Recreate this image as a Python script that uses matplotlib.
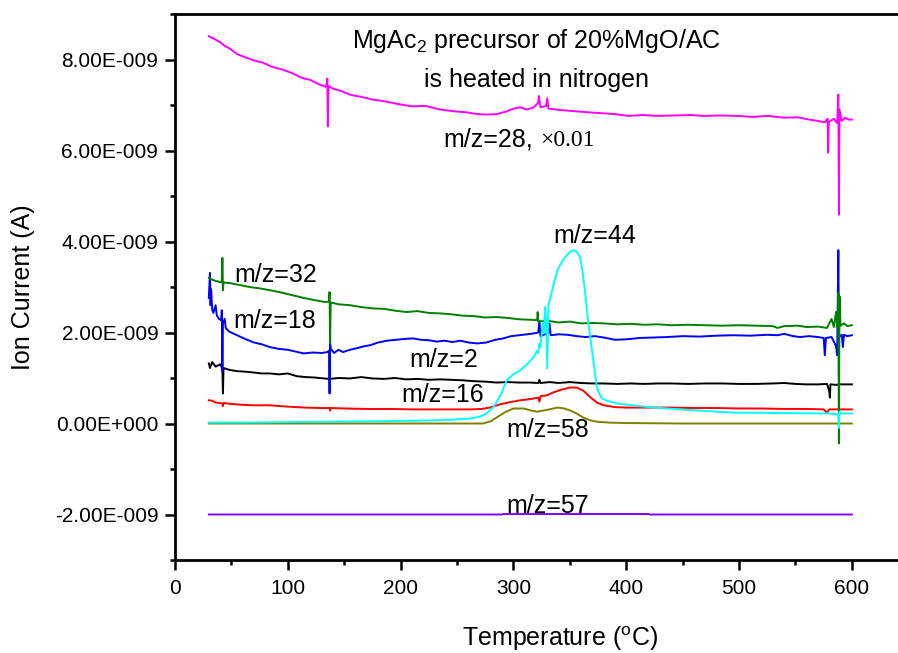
import matplotlib
matplotlib.use('Agg')
import matplotlib.pyplot as plt
import numpy as np
from matplotlib.ticker import FixedLocator, MultipleLocator, FuncFormatter

plt.rcParams['font.family'] = ['Liberation Sans', 'DejaVu Sans']
plt.rcParams['mathtext.default'] = 'regular'

# (temperature in C, ion current in units of 1e-9 A)
mz28 = [(30, 8.51), (35, 8.45), (40, 8.38), (44, 8.30), (48, 8.25), (55, 8.12), (62, 8.05), (70, 7.98),
        (78, 7.93), (86, 7.84), (95, 7.78), (104, 7.70), (112, 7.60), (120, 7.55), (128, 7.45), (134, 7.40),
        (135, 7.58), (135.5, 6.53), (136, 7.42), (140, 7.36), (148, 7.30), (156, 7.22), (165, 7.18),
        (175, 7.12), (186, 7.08), (198, 7.02), (210, 6.97), (222, 6.98), (235, 6.90), (248, 6.86),
        (258, 6.84), (268, 6.80), (276, 6.79), (285, 6.80), (294, 6.86), (300, 6.92), (306, 6.95),
        (312, 6.90), (318, 6.95), (322, 7.05), (322.5, 7.20), (324, 6.95), (329, 6.98), (330, 7.15),
        (331, 6.92), (338, 6.90), (346, 6.88), (356, 6.86), (366, 6.84), (378, 6.82), (390, 6.80),
        (402, 6.76), (415, 6.78), (428, 6.76), (442, 6.77), (456, 6.78), (470, 6.76), (484, 6.77),
        (498, 6.76), (512, 6.74), (526, 6.76), (540, 6.72), (552, 6.73), (562, 6.68), (570, 6.65),
        (576, 6.62), (578.5, 6.70), (579, 5.95), (579.5, 6.62), (584, 6.70), (587, 6.60), (588, 7.23),
        (588.5, 4.59), (589, 6.90), (591, 6.65), (594, 6.72), (597, 6.68), (600, 6.68)]

mz32 = [(30, 3.20), (34, 3.15), (38, 3.12), (41.5, 3.10), (42, 3.64), (42.5, 2.93), (43, 3.10), (50, 3.08),
        (58, 3.04), (66, 3.00), (75, 2.97), (84, 2.93), (94, 2.88), (104, 2.82), (114, 2.76), (124, 2.71),
        (133, 2.67), (136.5, 2.68), (137, 2.89), (137.5, 1.76), (138, 2.66), (145, 2.62), (155, 2.60),
        (165, 2.56), (175, 2.53), (185, 2.52), (195, 2.48), (205, 2.45), (215, 2.47), (225, 2.43),
        (235, 2.42), (245, 2.40), (255, 2.37), (265, 2.36), (275, 2.33), (285, 2.34), (295, 2.32),
        (305, 2.29), (315, 2.28), (321, 2.27), (321.5, 2.45), (322, 2.24), (330, 2.26), (340, 2.22),
        (350, 2.24), (360, 2.20), (370, 2.21), (380, 2.20), (392, 2.18), (404, 2.19), (416, 2.17),
        (428, 2.18), (440, 2.16), (455, 2.17), (470, 2.16), (485, 2.15), (500, 2.16), (515, 2.15),
        (530, 2.14), (534, 2.10), (540, 2.14), (552, 2.15), (560, 2.12), (570, 2.13), (578, 2.10),
        (582, 2.30), (584, 2.12), (586, 2.45), (587, 2.10), (588, 2.87), (588.5, -0.44), (589, 2.80),
        (590, 2.15), (593, 2.20), (596, 2.14), (600, 2.16)]

mz18 = [(30, 2.76), (31, 3.31), (31.5, 2.60), (32, 2.95), (33, 2.50), (34, 2.43), (36, 2.60), (37, 2.38),
        (39, 2.30), (41, 2.27), (41.5, 2.49), (42, 1.15), (42.5, 2.20), (44, 2.30), (45, 2.10), (48, 2.02),
        (55, 1.94), (62, 1.86), (70, 1.78), (77, 1.74), (84, 1.68), (92, 1.64), (100, 1.62), (107, 1.58),
        (114, 1.54), (122, 1.56), (130, 1.55), (135, 1.57), (136.5, 1.60), (137, 0.66), (137.5, 1.76),
        (138, 1.65), (141, 1.55), (145, 1.62), (149, 1.57), (155, 1.62), (162, 1.66), (168, 1.70),
        (173, 1.72), (180, 1.78), (188, 1.82), (196, 1.84), (204, 1.86), (211, 1.87), (218, 1.84),
        (225, 1.83), (232, 1.80), (239, 1.82), (246, 1.79), (253, 1.82), (260, 1.78), (268, 1.76),
        (276, 1.78), (284, 1.84), (291, 1.87), (298, 1.92), (305, 1.94), (312, 1.96), (318, 1.98),
        (322, 2.00), (323, 2.25), (324, 1.92), (328, 1.96), (331, 2.00), (332, 2.20), (333, 1.94),
        (340, 1.96), (348, 1.95), (356, 1.92), (364, 1.90), (372, 1.92), (380, 1.89), (390, 1.84),
        (400, 1.85), (412, 1.88), (424, 1.89), (436, 1.90), (450, 1.92), (465, 1.91), (480, 1.93),
        (495, 1.94), (510, 1.93), (525, 1.95), (534, 1.94), (540, 1.97), (548, 1.92), (554, 1.90),
        (562, 1.92), (570, 1.90), (575, 1.88), (576, 1.50), (577, 1.88), (582, 1.90), (586, 1.70),
        (587, 1.50), (588, 3.81), (588.5, 1.90), (591, 1.95), (592, 1.68), (593, 1.95), (596, 1.92),
        (600, 1.94)]

mz2 = [(30, 1.32), (31, 1.22), (33, 1.35), (36, 1.25), (40, 1.30), (42, 1.21), (42.5, 0.66), (43, 1.22),
       (48, 1.18), (55, 1.15), (62, 1.14), (70, 1.12), (77, 1.10), (84, 1.10), (92, 1.08), (100, 1.10),
       (108, 1.04), (116, 1.02), (124, 1.01), (132, 0.99), (137, 0.98), (145, 1.00), (155, 0.99),
       (165, 1.02), (175, 0.99), (185, 0.98), (195, 1.00), (205, 0.97), (215, 0.98), (225, 0.96),
       (235, 0.97), (245, 0.96), (255, 0.95), (265, 0.93), (275, 0.92), (285, 0.90), (295, 0.91),
       (305, 0.90), (315, 0.90), (322, 0.89), (323, 0.96), (324, 0.89), (332, 0.91), (340, 0.89),
       (350, 0.91), (360, 0.89), (370, 0.88), (380, 0.88), (392, 0.87), (404, 0.88), (416, 0.87),
       (428, 0.88), (440, 0.88), (455, 0.87), (470, 0.88), (485, 0.88), (500, 0.87), (515, 0.87),
       (530, 0.88), (540, 0.89), (550, 0.87), (560, 0.86), (570, 0.86), (578, 0.87), (580, 0.70),
       (580.5, 0.57), (581, 0.86), (586, 0.85), (590, 0.86), (595, 0.86), (600, 0.86)]

mz16 = [(30, 0.51), (33, 0.50), (36, 0.46), (40, 0.45), (42, 0.44), (42.5, 0.38), (43, 0.45), (50, 0.43),
        (60, 0.41), (70, 0.40), (84, 0.40), (100, 0.37), (115, 0.35), (130, 0.34), (137, 0.34),
        (137.5, 0.28), (138, 0.34), (150, 0.33), (170, 0.32), (190, 0.32), (210, 0.31), (230, 0.31),
        (250, 0.31), (262, 0.31), (272, 0.32), (279, 0.35), (288, 0.42), (297, 0.47), (306, 0.51),
        (316, 0.54), (322, 0.57), (323, 0.48), (324, 0.60), (330, 0.62), (335, 0.68), (342, 0.74),
        (350, 0.79), (356, 0.79), (362, 0.72), (368, 0.58), (374, 0.46), (380, 0.40), (390, 0.36),
        (400, 0.35), (420, 0.35), (440, 0.35), (460, 0.34), (480, 0.34), (500, 0.33), (520, 0.33),
        (540, 0.32), (560, 0.32), (575, 0.31), (578, 0.24), (580, 0.31), (590, 0.31), (600, 0.31)]

mz44 = [(30, 0.02), (60, 0.02), (100, 0.03), (143, 0.04), (180, 0.05), (210, 0.06), (232, 0.07),
        (250, 0.09), (262, 0.11), (270, 0.15), (276, 0.22), (281, 0.33), (285, 0.46), (290, 0.70),
        (294, 0.95), (300, 1.08), (306, 1.17), (312, 1.30), (318, 1.46), (321, 1.60), (322, 1.55),
        (323, 1.75), (324, 1.68), (326, 2.20), (327, 2.00), (328, 2.56), (329, 2.30), (330, 1.21),
        (331, 2.60), (333, 2.78), (336, 3.10), (339, 3.37), (344, 3.60), (350, 3.77), (353, 3.81),
        (356, 3.78), (359, 3.66), (361, 3.40), (363, 3.00), (366, 2.30), (370, 1.54), (374, 0.79),
        (378, 0.56), (383, 0.50), (392, 0.44), (405, 0.40), (420, 0.36), (436, 0.33), (460, 0.29),
        (495, 0.24), (540, 0.23), (580, 0.22), (588, 0.20), (588.5, -0.10), (589, 0.26), (590, 0.22),
        (600, 0.22)]

mz58 = [(30, 0.0), (100, 0.0), (200, 0.0), (273, 0.0), (280, 0.05), (285, 0.13), (292, 0.24), (300, 0.33),
        (309, 0.33), (315, 0.29), (321, 0.26), (330, 0.30), (339, 0.35), (345, 0.33), (350, 0.29),
        (356, 0.22), (362, 0.13), (368, 0.07), (374, 0.04), (385, 0.02), (400, 0.01), (450, 0.0),
        (600, 0.0)]

mz57 = [(30, -2.0), (290, -2.0), (291, -1.99), (420, -1.99), (421, -2.0), (600, -2.0)]

series = [
    (mz57, '#8000ff'),
    (mz58, '#808000'),
    (mz16, '#ff0000'),
    (mz2, '#000000'),
    (mz18, '#0000ff'),
    (mz32, '#008000'),
    (mz44, '#00ffff'),
    (mz28, '#ff00ff'),
]

fig = plt.figure(figsize=(8.98, 6.53), dpi=100)
ax = fig.add_axes([175 / 898, 1 - 560 / 653, 722 / 898, 546 / 653])

for data, color in series:
    arr = np.array(data)
    ax.plot(arr[:, 0], arr[:, 1], color=color, lw=1.4)

ax.set_xlim(0, 640)
ax.set_ylim(-3, 9)

ax.set_xticks([0, 100, 200, 300, 400, 500, 600])
ax.xaxis.set_minor_locator(MultipleLocator(50))
ax.yaxis.set_major_locator(FixedLocator([-2, 0, 2, 4, 6, 8]))
ax.yaxis.set_minor_locator(MultipleLocator(1))


def sci_fmt(v, pos):
    val = v * 1e-9
    if abs(v) < 1e-12:
        return '0.00E+000'
    exp = int(np.floor(np.log10(abs(val)) + 1e-9))
    mant = val / 10 ** exp
    return '%.2fE%s%03d' % (mant, '-' if exp < 0 else '+', abs(exp))


ax.yaxis.set_major_formatter(FuncFormatter(sci_fmt))

ax.spines['right'].set_visible(False)
for s in ['left', 'bottom', 'top']:
    ax.spines[s].set_linewidth(2.0)
ax.tick_params(axis='both', which='major', direction='out', length=7, width=1.8, labelsize=15, pad=5)
ax.tick_params(axis='x', which='major', pad=7)
ax.tick_params(axis='both', which='minor', direction='out', length=3.5, width=1.8)
ax.tick_params(top=False, right=False)

ax.set_xlabel('Temperature ($^o$C)', fontsize=18)
ax.set_ylabel('Ion Current (A)', fontsize=18)
ax.xaxis.set_label_coords((560 - 175) / 722, (560 - 624) / 546)
ax.yaxis.set_label_coords((35 - 175) / 722, 0.5)

lab = dict(fontsize=18, va='baseline', ha='left')
ax.text(320, 8.25, 'MgAc$_2$ precursor of 20%MgO/AC', fontsize=18, ha='center', va='baseline')
ax.text(320, 7.40, 'is heated in nitrogen', fontsize=18, ha='center', va='baseline')
ax.text(238, 6.09, 'm/z=28,', **lab)
ax.text(323.5, 6.09, '\u00d70.01', fontsize=17, va='baseline', ha='left', family='Liberation Serif')
ax.text(52.6, 3.10, 'm/z=32', **lab)
ax.text(51.7, 2.09, 'm/z=18', **lab)
ax.text(207.7, 1.24, 'm/z=2', **lab)
ax.text(201, 0.47, 'm/z=16', **lab)
ax.text(335.4, 3.96, 'm/z=44', **lab)
ax.text(293.4, -0.30, 'm/z=58', **lab)
ax.text(293.4, -1.96, 'm/z=57', **lab)

fig.savefig('out.png', dpi=100)
